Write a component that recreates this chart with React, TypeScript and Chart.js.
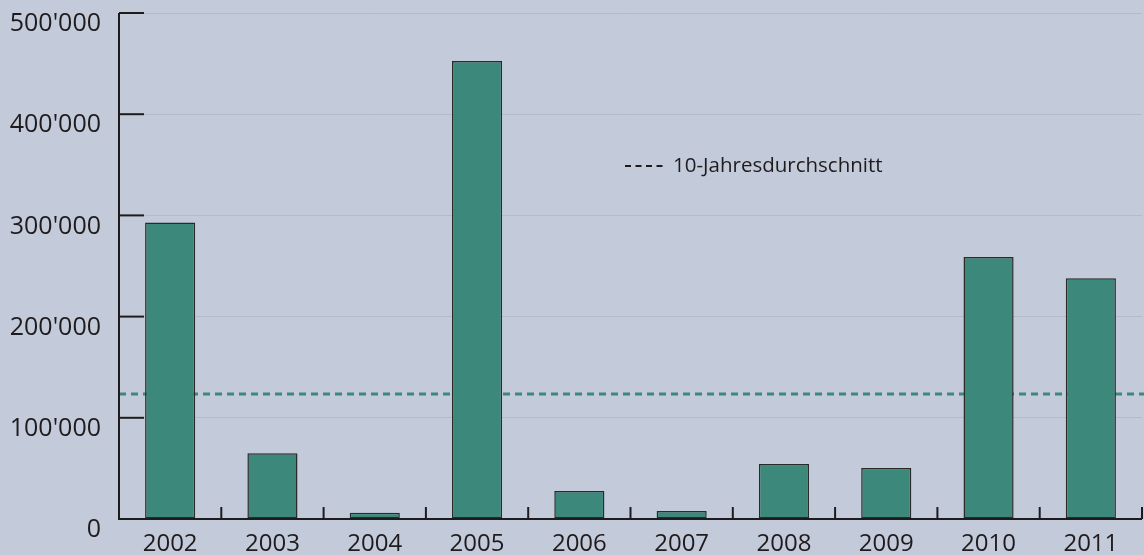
import React, { useEffect, useRef } from "react";
import { Chart, registerables } from "chart.js";

Chart.register(...registerables);

const years = ["2002", "2003", "2004", "2005", "2006", "2007", "2008", "2009", "2010", "2011"];
const values = [293000, 65000, 6200, 452500, 27700, 7900, 54300, 50400, 259000, 238000];
const tenYearAverage = 123500;
const yTickValues = [0, 100000, 200000, 300000, 400000, 500000];
const legendLabel = "10-Jahresdurchschnitt";

const BG = "#c3cbdb";
const BAR = "#3c897b";
const DARK = "#1f1b1c";
const GRID = "#b3bac9";
const FONT = '"Open Sans", "Noto Sans", sans-serif';

const fmt = (v: number) => String(v).replace(/\B(?=(\d{3})+(?!\d))/g, "'");

const decor = {
  id: "decor",
  beforeDatasetsDraw(chart: any) {
    const { ctx, chartArea, scales } = chart;
    const y = scales.y.getPixelForValue(tenYearAverage);
    ctx.save();
    ctx.strokeStyle = BAR;
    ctx.lineWidth = 2.8;
    ctx.setLineDash([7, 5]);
    ctx.beginPath();
    ctx.moveTo(chartArea.left, y);
    ctx.lineTo(chart.width, y);
    ctx.stroke();
    ctx.restore();
  },
  afterDatasetsDraw(chart: any) {
    const { ctx, chartArea, scales } = chart;
    const { left, right, top, bottom } = chartArea;
    ctx.save();
    ctx.strokeStyle = DARK;
    ctx.lineWidth = 2;
    ctx.setLineDash([]);
    ctx.beginPath();
    ctx.moveTo(left, top);
    ctx.lineTo(left, bottom);
    ctx.lineTo(right, bottom);
    ctx.stroke();
    yTickValues.forEach((v) => {
      const py = scales.y.getPixelForValue(v);
      ctx.beginPath();
      ctx.moveTo(left, py);
      ctx.lineTo(left + 25, py);
      ctx.stroke();
    });
    const n = years.length;
    const step = (right - left) / n;
    for (let i = 0; i <= n; i++) {
      const px = left + i * step;
      ctx.beginPath();
      ctx.moveTo(px, bottom);
      ctx.lineTo(px, bottom - 12);
      ctx.stroke();
    }
    ctx.restore();
  },
  afterDraw(chart: any) {
    const { ctx } = chart;
    ctx.save();
    ctx.strokeStyle = DARK;
    ctx.lineWidth = 2.2;
    ctx.setLineDash([6, 4.5]);
    ctx.beginPath();
    ctx.moveTo(625, 166);
    ctx.lineTo(663, 166);
    ctx.stroke();
    ctx.setLineDash([]);
    ctx.fillStyle = DARK;
    ctx.font = `20.5px ${FONT}`;
    ctx.textBaseline = "middle";
    ctx.textAlign = "left";
    ctx.fillText(legendLabel, 673, 166);
    ctx.restore();
  },
};

export default function App() {
  const ref = useRef<HTMLCanvasElement>(null);
  useEffect(() => {
    if (!ref.current) return;
    const chart = new Chart(ref.current, {
      type: "bar",
      data: {
        labels: years,
        datasets: [
          {
            data: values,
            backgroundColor: BAR,
            borderColor: "#2a2a2a",
            borderWidth: 1.5,
            borderSkipped: false,
            barPercentage: 0.49,
            categoryPercentage: 1,
          },
        ],
      },
      options: {
        responsive: false,
        animation: false,
        layout: { padding: { top: 13, right: 2, left: 0, bottom: 0 } },
        plugins: { legend: { display: false }, tooltip: { enabled: false } },
        scales: {
          x: {
            grid: { display: false, drawTicks: false },
            border: { display: false },
            ticks: {
              color: DARK,
              font: { family: FONT, size: 24 },
              padding: 11,
              maxRotation: 0,
              autoSkip: false,
            },
            afterFit: (s: any) => {
              s.height = 36;
              s.paddingLeft = 0;
              s.paddingRight = 0;
            },
          },
          y: {
            min: 0,
            max: 500000,
            grid: { color: GRID, lineWidth: 1, drawTicks: false },
            border: { display: false },
            ticks: {
              stepSize: 100000,
              color: DARK,
              font: { family: FONT, size: 25 },
              padding: 18,
              labelOffset: 11,
              callback: (v: any) => fmt(Number(v)),
            },
            afterFit: (s: any) => {
              s.width = 119;
              s.paddingTop = 0;
              s.paddingBottom = 0;
            },
          },
        },
      },
      plugins: [decor],
    });
    return () => chart.destroy();
  }, []);
  return (
    <div style={{ position: "fixed", left: 0, top: 0, width: 1144, height: 555, background: BG }}>
      <canvas ref={ref} width={1144} height={555} style={{ display: "block" }} />
    </div>
  );
}
